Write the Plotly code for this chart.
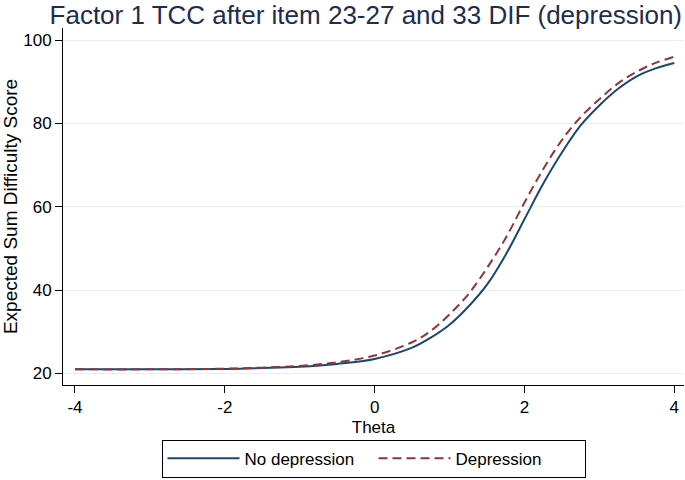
import plotly.graph_objects as go

theta = [-4, -3, -2, -1.5, -1, -0.5, 0, 0.5, 0.75, 1, 1.25, 1.5, 1.75,
         2, 2.25, 2.5, 2.75, 3, 3.25, 3.5, 3.75, 4]
no_depression = [21.0, 21.0, 21.1, 21.3, 21.6, 22.3, 23.5, 26.2, 28.6, 31.7,
                 36.0, 41.3, 48.5, 57.0, 65.5, 73.0, 79.5, 84.3, 88.3, 91.3,
                 93.2, 94.5]
depression = [21.0, 21.0, 21.15, 21.4, 21.8, 22.7, 24.3, 27.5, 30.2, 34.2,
              39.0, 45.3, 52.5, 61.0, 69.0, 76.0, 81.5, 85.8, 89.6, 92.4,
              94.5, 96.0]

x_ticks = [-4, -2, 0, 2, 4]
x_tick_labels = ["-4", "-2", "0", "2", "4"]
y_ticks = [20, 40, 60, 80, 100]
y_tick_labels = ["20", "40", "60", "80", "100"]

font = "Liberation Sans, Arial, Helvetica, sans-serif"

fig = go.Figure()
fig.add_trace(go.Scatter(x=theta, y=no_depression, mode="lines",
                         name="No depression", line_shape="spline",
                         line=dict(color="#1a476f", width=2)))
fig.add_trace(go.Scatter(x=theta, y=depression, mode="lines",
                         name="Depression", line_shape="spline",
                         line=dict(color="#90353b", width=2, dash="9px,5px")))

fig.update_layout(
    width=685, height=480,
    margin=dict(l=63, r=1, t=28, b=95, autoexpand=False),
    paper_bgcolor="white", plot_bgcolor="white",
    font=dict(family=font, size=17, color="black"),
    title=dict(text="Factor 1 TCC after item 23-27 and 33 DIF (depression)",
               font=dict(family=font, size=26, color="#1e2c50"),
               x=0.534, xanchor="center", y=0.97, yanchor="middle",
               xref="container", yref="container"),
    showlegend=True,
    legend=dict(orientation="h", x=0.5, xanchor="center", y=-0.153,
                yanchor="top", bordercolor="black", borderwidth=1,
                font=dict(family=font, size=17, color="black"),
                bgcolor="white", itemwidth=72, entrywidth=124,
                tracegroupgap=0),
    xaxis=dict(range=[-4.16, 4.13], tickvals=x_ticks, ticktext=x_tick_labels,
               showgrid=False, zeroline=False, showline=True,
               linecolor="black", linewidth=1, ticks="outside", ticklen=7,
               tickcolor="black",
               title=dict(text="Theta", standoff=4,
                          font=dict(family=font, size=17))),
    yaxis=dict(range=[17.24, 102.88], tickvals=y_ticks, ticktext=y_tick_labels,
               showgrid=True, gridcolor="#e6eff1", gridwidth=1,
               zeroline=False, showline=True, linecolor="black", linewidth=1,
               ticks="outside", ticklen=7, tickcolor="black",
               title=dict(text="Expected Sum Difficulty Score", standoff=3,
                          font=dict(family=font, size=19))),
)

fig.write_html("out.html",
               config={"displayModeBar": False},
               post_script="document.body.style.margin='0px';"
                           "document.body.style.overflow='hidden';")
